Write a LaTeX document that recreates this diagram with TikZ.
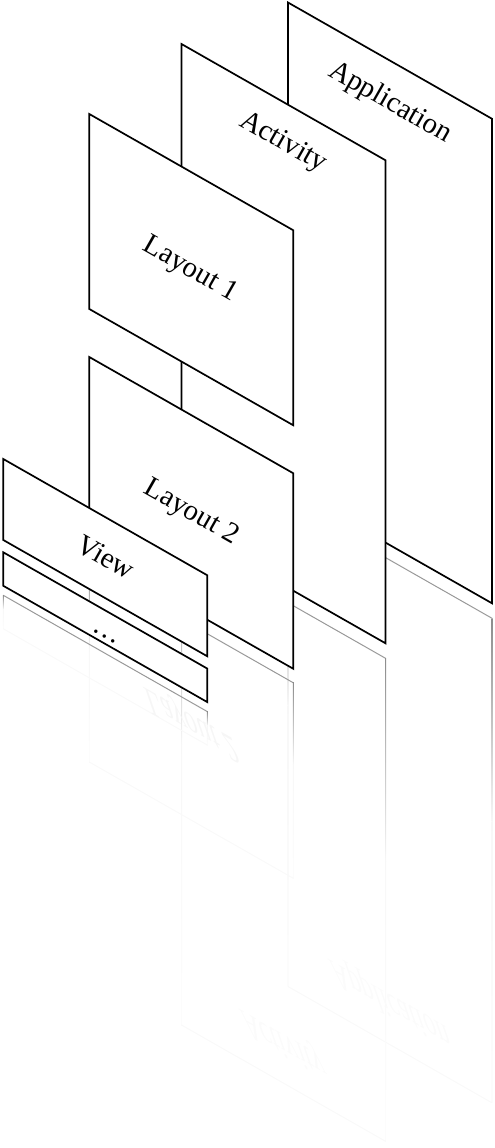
\documentclass[tikz,border=0pt]{standalone}
\usepackage{fontspec}
\setmainfont{Liberation Serif}
\begin{document}
\begin{tikzpicture}[x=1pt,y=-1pt]
\tikzset{
  panelbox/.style={draw=black, fill=white, line width=1.7pt, line join=miter},
  lbl/.style={font=\fontsize{29}{34}\selectfont, rotate=-29.7, inner sep=0pt},
  reftop/.style={draw=black!40, line width=1pt},
  refbottom/.style={draw=black!2.5, line width=1pt},
}
\newcommand{\mypanel}[3]{%
  \draw[panelbox] (#1,#2) -- ++(204,116.28) -- ++(0,#3) -- ++(-204,-116.28) -- cycle;}
\newcommand{\myrefl}[3]{%
  \draw[reftop] (#1,#2) -- ++(204,116.28);
  \shade[top color=black!45, bottom color=black!3] (#1-0.5,#2) rectangle (#1+0.5,#2+0.42*#3);
  \shade[top color=black!3, bottom color=black!1] (#1-0.5,#2+0.42*#3) rectangle (#1+0.5,#2+#3);
  \shade[top color=black!45, bottom color=black!3] (#1+203.5,#2+116.28) rectangle (#1+204.5,#2+116.28+0.42*#3);
  \shade[top color=black!3, bottom color=black!1] (#1+203.5,#2+116.28+0.42*#3) rectangle (#1+204.5,#2+116.28+#3);
  \draw[refbottom] (#1,#2+#3) -- ++(204,116.28);}
\useasboundingbox (0,0) rectangle (495,1148);

% reflections
\myrefl{288}{502}{484.5}
\myrefl{181.5}{542}{483}
\myrefl{89.3}{566.5}{195.5}
\myrefl{3.3}{595.3}{33.5}
\begin{scope}[cm={1,-1.14,0,-1,(0pt,-660.68pt)}]
  \node[lbl, transform shape, text=black!1.5] (appR) at (390,103) {Application};
\end{scope}
\begin{scope}[cm={1,-1.14,0,-1,(0pt,-862.09pt)}]
  \node[lbl, transform shape, text=black!1.5] (actR) at (283,143) {Activity};
\end{scope}
\begin{scope}[cm={1,-1.14,0,-1,(0pt,-1017.2pt)}]
  \node[lbl, transform shape, text=black!3.5] (layTwoR) at (191,513) {Layout 2};
\end{scope}

% panels
\mypanel{288}{2.5}{484.5}
\node[lbl] (app) at (390,103) {Application};
\mypanel{181.5}{44}{483}
\node[lbl] (act) at (283,143) {Activity};
\mypanel{89.3}{114}{195}
\node[lbl] (layOne) at (190,270) {Layout 1};
\mypanel{89.3}{357}{195.5}
\node[lbl] (layTwo) at (191,513) {Layout 2};
\mypanel{3.3}{459}{81}
\node[lbl] (view) at (106,557) {View};
\mypanel{3.3}{552.3}{33.5}
\node[lbl] (more) at (105,637) {\ldots};
\end{tikzpicture}
\end{document}
